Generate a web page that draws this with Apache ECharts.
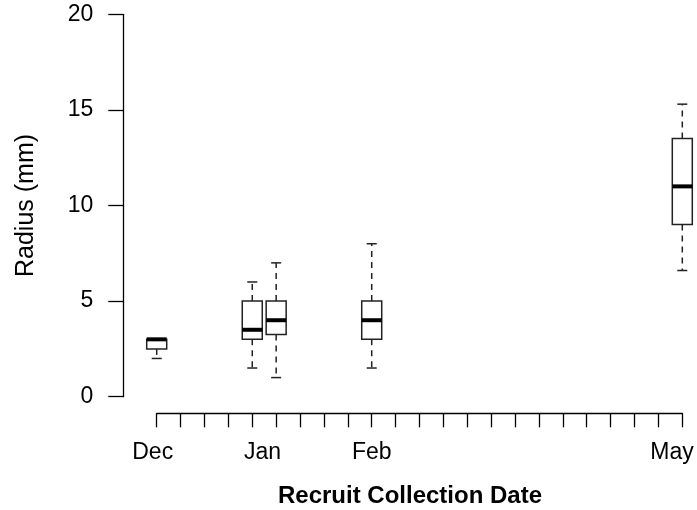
<!DOCTYPE html>
<html>
<head>
<meta charset="utf-8">
<script src="https://cdn.jsdelivr.net/npm/echarts@6/dist/echarts.min.js"></script>
<style>
html,body{margin:0;padding:0;background:#fff;}
#chart{width:697px;height:510px;}
</style>
</head>
<body>
<div id="chart"></div>
<script>
// Days since 1 Dec for each collection
const collectionDays = [0, 28, 35, 63, 154];
const whiskerLow  = [2,   1.5, 1,    1.5, 6.6];
const q1          = [2.5, 3,   3.25, 3,   9];
const median      = [3,   3.5, 4,    4,   11];
const q3          = [3,   5,   5,    5,   13.5];
const whiskerHigh = [3,   6,   7,    8,   15.3];

// Month tick labels and their day positions
const monthLabels = ['Dec', 'Jan', 'Feb', 'May'];
const monthDays = [0, 31, 63, 151];
const dayMax = 154;
const weekInterval = 7;

const FONT = '"Liberation Sans", Arial, Helvetica, sans-serif';

const labelCats = [];
for (let d = 0; d <= dayMax; d++) labelCats.push('');
monthDays.forEach((d, i) => { labelCats[d] = monthLabels[i]; });

const boxData = collectionDays.map((d, i) => [d, whiskerLow[i], q1[i], median[i], q3[i], whiskerHigh[i]]);

const chart = echarts.init(document.getElementById('chart'), null, {renderer: 'canvas'});

const BOX_HALF = 10, CAP_HALF = 5;
const stroke = '#222';

chart.setOption({
  animation: false,
  backgroundColor: '#fff',
  grid: {left: 156.7, right: 14.7, top: 14.3, bottom: 113.3, containLabel: false},
  xAxis: [
    {
      type: 'value', min: 0, max: dayMax, interval: weekInterval,
      position: 'bottom', offset: 16.6,
      axisLine: {show: true, onZero: false, lineStyle: {color: '#000', width: 1.3}},
      axisTick: {show: true, inside: false, length: 14, lineStyle: {color: '#000', width: 1.3}},
      axisLabel: {show: false},
      splitLine: {show: false}
    },
    {
      type: 'category', data: labelCats, boundaryGap: false,
      position: 'bottom', offset: 16.6,
      axisLine: {show: false, onZero: false}, axisTick: {show: false}, splitLine: {show: false},
      axisLabel: {
        interval: function (i, v) { return v !== ''; },
        formatter: function (v) { return v === 'Dec' ? '{dec|' + v + '}' : v; },
        rich: {dec: {fontSize: 23, color: '#000', fontFamily: FONT, padding: [0, 8, 0, 0]}},
        margin: 28, fontSize: 23, color: '#000', fontFamily: FONT
      }
    }
  ],
  yAxis: {
    type: 'value', min: 0, max: 20, interval: 5,
    position: 'left', offset: 33.4,
    axisLine: {show: true, onZero: false, lineStyle: {color: '#000', width: 1.3}},
    axisTick: {show: true, inside: false, length: 15, lineStyle: {color: '#000', width: 1.3}},
    axisLabel: {margin: 30, fontSize: 23, color: '#000', fontFamily: FONT},
    splitLine: {show: false},
    name: 'Radius (mm)', nameLocation: 'middle', nameGap: 85, nameRotate: 90,
    nameTextStyle: {fontSize: 25, color: '#000', fontFamily: FONT}
  },
  graphic: [{
    type: 'text', x: 410, y: 496,
    style: {text: 'Recruit Collection Date', font: 'bold 24px ' + FONT, fill: '#000', textAlign: 'center', textVerticalAlign: 'middle'}
  }],
  series: [{
    type: 'custom',
    xAxisIndex: 0, yAxisIndex: 0,
    data: boxData,
    encode: {x: 0, y: [1, 2, 3, 4, 5]},
    renderItem: function (params, api) {
      const x = api.value(0);
      const pLow = api.coord([x, api.value(1)]);
      const pQ1 = api.coord([x, api.value(2)]);
      const pMed = api.coord([x, api.value(3)]);
      const pQ3 = api.coord([x, api.value(4)]);
      const pHigh = api.coord([x, api.value(5)]);
      const cx = pMed[0];
      const dash = {stroke: stroke, lineWidth: 1.5, lineDash: [6, 5]};
      const solid = {stroke: stroke, lineWidth: 1.5};
      return {
        type: 'group',
        children: [
          {type: 'line', shape: {x1: cx, y1: pQ1[1], x2: cx, y2: pLow[1]}, style: dash},
          {type: 'line', shape: {x1: cx, y1: pQ3[1], x2: cx, y2: pHigh[1]}, style: dash},
          {type: 'line', shape: {x1: cx - CAP_HALF, y1: pLow[1], x2: cx + CAP_HALF, y2: pLow[1]}, style: solid},
          {type: 'line', shape: {x1: cx - CAP_HALF, y1: pHigh[1], x2: cx + CAP_HALF, y2: pHigh[1]}, style: solid},
          {type: 'rect', shape: {x: cx - BOX_HALF, y: pQ3[1], width: 2 * BOX_HALF, height: pQ1[1] - pQ3[1]}, style: {fill: '#fff', stroke: stroke, lineWidth: 1.5}},
          {type: 'line', shape: {x1: cx - BOX_HALF, y1: pMed[1], x2: cx + BOX_HALF, y2: pMed[1]}, style: {stroke: '#000', lineWidth: 4}}
        ]
      };
    }
  }]
});
</script>
</body>
</html>
